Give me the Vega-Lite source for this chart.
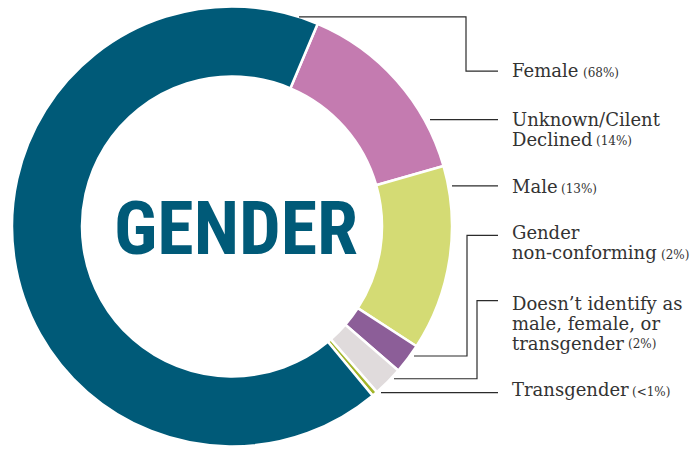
{
  "$schema": "https://vega.github.io/schema/vega-lite/v6.json",
  "width": 695,
  "height": 449,
  "padding": 0,
  "autosize": {"type": "fit", "contains": "padding"},
  "background": "white",
  "config": {"view": {"stroke": null}},
  "datasets": {
    "gender": [
      {"category": "Unknown/Cilent Declined", "share": 14.2, "rank": 1},
      {"category": "Male", "share": 13.6, "rank": 2},
      {"category": "Gender non-conforming", "share": 2.2, "rank": 3},
      {"category": "Doesn't identify as male, female, or transgender", "share": 2.2, "rank": 4},
      {"category": "Transgender", "share": 0.4, "rank": 5},
      {"category": "Female", "share": 67.4, "rank": 6}
    ],
    "leaders": [
      {"label": "Female", "step": 1, "x": 299, "y": 17},
      {"label": "Female", "step": 2, "x": 466, "y": 17},
      {"label": "Female", "step": 3, "x": 466, "y": 72},
      {"label": "Female", "step": 4, "x": 498, "y": 72},
      {"label": "Unknown", "step": 1, "x": 430, "y": 121},
      {"label": "Unknown", "step": 2, "x": 498, "y": 121},
      {"label": "Male", "step": 1, "x": 452, "y": 188},
      {"label": "Male", "step": 2, "x": 498, "y": 188},
      {"label": "GNC", "step": 1, "x": 414, "y": 360},
      {"label": "GNC", "step": 2, "x": 467, "y": 360},
      {"label": "GNC", "step": 3, "x": 467, "y": 238},
      {"label": "GNC", "step": 4, "x": 498, "y": 238},
      {"label": "Doesn't", "step": 1, "x": 394, "y": 383},
      {"label": "Doesn't", "step": 2, "x": 477, "y": 383},
      {"label": "Doesn't", "step": 3, "x": 477, "y": 304},
      {"label": "Doesn't", "step": 4, "x": 498, "y": 304},
      {"label": "Transgender", "step": 1, "x": 381, "y": 397},
      {"label": "Transgender", "step": 2, "x": 498, "y": 397}
    ],
    "labels": [
      {"text": "Female", "pct": "(68%)", "x": 512, "y": 78, "px": 583, "py": 78},
      {"text": "Unknown/Cilent\nDeclined", "pct": "(14%)", "x": 512, "y": 127, "px": 596, "py": 147},
      {"text": "Male", "pct": "(13%)", "x": 512, "y": 195, "px": 561, "py": 195},
      {"text": "Gender\nnon-conforming", "pct": "(2%)", "x": 512, "y": 242, "px": 661, "py": 262},
      {"text": "Doesn’t identify as\nmale, female, or\ntransgender", "pct": "(2%)", "x": 512, "y": 313, "px": 628, "py": 352},
      {"text": "Transgender", "pct": "(<1%)", "x": 512, "y": 400, "px": 632, "py": 400}
    ],
    "title": [
      {"text": "GENDER", "x": 236, "y": 257}
    ]
  },
  "layer": [
    {
      "data": {"name": "gender"},
      "mark": {"type": "arc", "innerRadius": 150, "outerRadius": 220, "stroke": "white", "strokeWidth": 2.5},
      "encoding": {
        "x": {"datum": 232, "type": "quantitative", "scale": {"domain": [0, 695], "nice": false, "zero": false}, "axis": null},
        "y": {"datum": 229, "type": "quantitative", "scale": {"domain": [0, 449], "nice": false, "zero": false, "reverse": true}, "axis": null},
        "theta": {"field": "share", "type": "quantitative", "stack": true, "scale": {"range": [0.4, 6.683]}},
        "color": {
          "field": "category",
          "type": "nominal",
          "scale": {
            "domain": ["Female", "Unknown/Cilent Declined", "Male", "Gender non-conforming", "Doesn't identify as male, female, or transgender", "Transgender"],
            "range": ["#005A78", "#C47BB0", "#D4DB74", "#8C5E98", "#E0DBDC", "#A3B52A"]
          },
          "legend": null
        },
        "order": {"field": "rank", "type": "quantitative"}
      }
    },
    {
      "data": {"name": "leaders"},
      "mark": {"type": "line", "color": "#2b2b2b", "strokeWidth": 1.2},
      "encoding": {
        "x": {"field": "x", "type": "quantitative"},
        "y": {"field": "y", "type": "quantitative"},
        "detail": {"field": "label", "type": "nominal"},
        "order": {"field": "step", "type": "quantitative"}
      }
    },
    {
      "data": {"name": "labels"},
      "mark": {"type": "text", "align": "left", "baseline": "alphabetic", "font": "DejaVu Serif", "fontSize": 18, "lineHeight": 20, "lineBreak": "\n", "color": "#333333"},
      "encoding": {
        "x": {"field": "x", "type": "quantitative"},
        "y": {"field": "y", "type": "quantitative"},
        "text": {"field": "text", "type": "nominal"}
      }
    },
    {
      "data": {"name": "labels"},
      "mark": {"type": "text", "align": "left", "baseline": "alphabetic", "font": "DejaVu Serif", "fontSize": 12, "color": "#333333"},
      "encoding": {
        "x": {"field": "px", "type": "quantitative"},
        "y": {"field": "py", "type": "quantitative"},
        "text": {"field": "pct", "type": "nominal"}
      }
    },
    {
      "data": {"name": "title"},
      "mark": {"type": "text", "align": "center", "baseline": "alphabetic", "font": "Roboto Condensed, Noto Sans Condensed, Liberation Sans Narrow, DejaVu Sans Condensed", "fontWeight": "bold", "fontSize": 74, "color": "#005A78"},
      "encoding": {
        "x": {"field": "x", "type": "quantitative"},
        "y": {"field": "y", "type": "quantitative"},
        "text": {"field": "text", "type": "nominal"}
      }
    }
  ]
}
